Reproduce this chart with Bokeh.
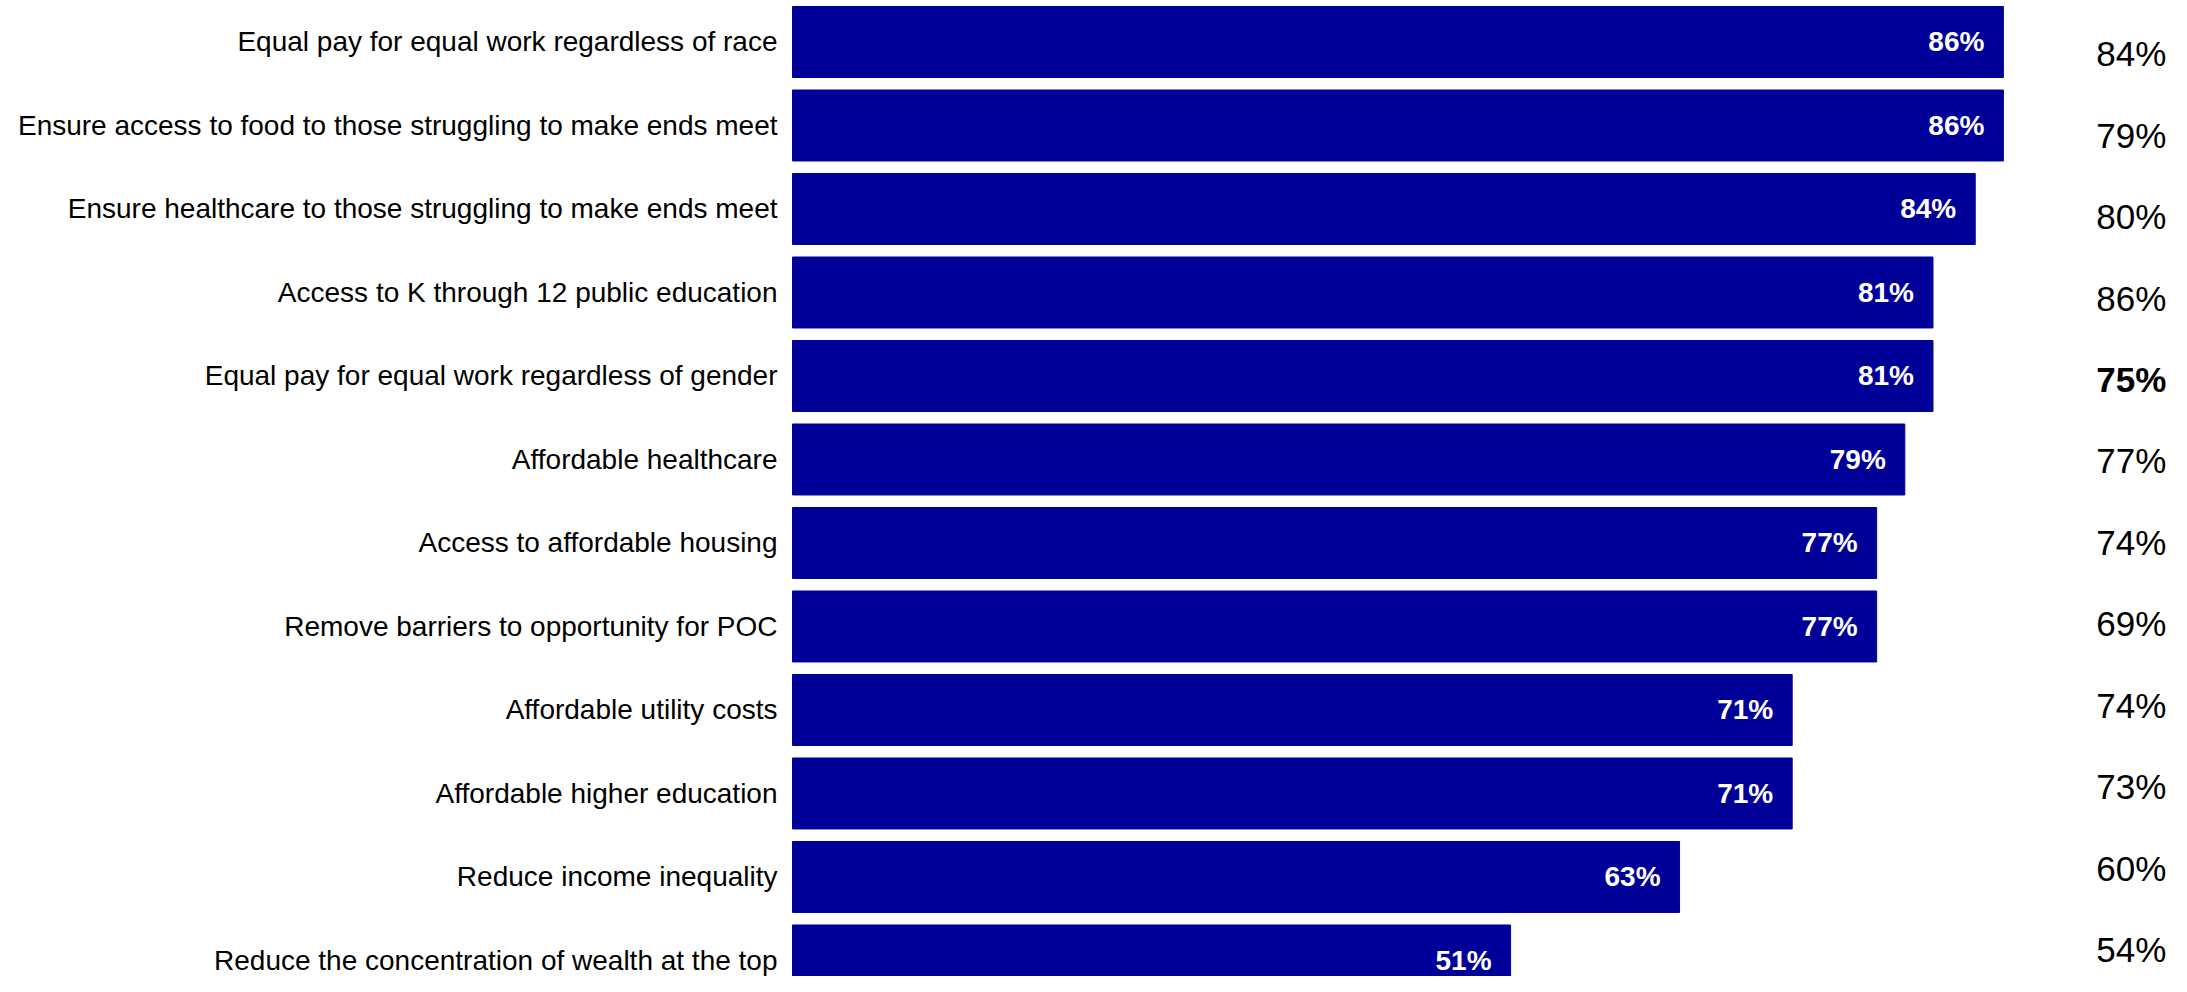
from bokeh.plotting import figure
from bokeh.models import ColumnDataSource, Range1d
from bokeh.core.properties import value, field
from bokeh.embed import file_html
from bokeh.resources import INLINE

categories = [
    "Equal pay for equal work regardless of race",
    "Ensure access to food to those struggling to make ends meet",
    "Ensure healthcare to those struggling to make ends meet",
    "Access to K through 12 public education",
    "Equal pay for equal work regardless of gender",
    "Affordable healthcare",
    "Access to affordable housing",
    "Remove barriers to opportunity for POC",
    "Affordable utility costs",
    "Affordable higher education",
    "Reduce income inequality",
    "Reduce the concentration of wealth at the top",
]
values = [86, 86, 84, 81, 81, 79, 77, 77, 71, 71, 63, 51]
compare = [84, 79, 80, 86, 75, 77, 74, 69, 74, 73, 60, 54]
compare_bold = [False, False, False, False, True, False, False, False, False, False, False, False]

n = len(categories)
idx = list(range(n))
src = ColumnDataSource(dict(
    y=idx,
    cat=categories,
    val=values,
    lbl=[f"{v}%" for v in values],
    zero=[0] * n,
))
right_x = 92.6
rsrc = ColumnDataSource(dict(
    y=[0.138 + 0.976 * i for i in idx],
    x=[right_x] * n,
    lbl=[f"{v}%" for v in compare],
    style=["bold" if b else "normal" for b in compare_bold],
))

W, H = 2171, 976
p = figure(width=W, height=H, output_backend="svg", toolbar_location=None,
           x_range=Range1d(-56.25, 97.94), y_range=Range1d(11.192, -0.497),
           min_border=0, min_border_left=0, min_border_right=0,
           min_border_top=0, min_border_bottom=0)
p.axis.visible = False
p.grid.visible = False
p.outline_line_color = None
p.background_fill_color = "white"
p.border_fill_color = "white"

BLUE = "#000099"
p.hbar(y="y", left="zero", right="val", height=0.85, source=src,
       fill_color=BLUE, line_color=BLUE)

p.text(x="zero", y="y", text="cat", source=src, x_offset=-15,
       text_align="right", text_baseline="middle",
       text_font=value("Liberation Sans"), text_font_size="28px",
       text_color="black")

p.text(x="val", y="y", text="lbl", source=src, x_offset=-19,
       text_align="right", text_baseline="middle",
       text_font=value("Liberation Sans"), text_font_size="28px",
       text_font_style="bold", text_color="white")

p.text(x="x", y="y", text="lbl", source=rsrc,
       text_align="left", text_baseline="middle",
       text_font=value("Liberation Sans"), text_font_size="35px",
       text_font_style=field("style"), text_color="black")

open("out.html", "w").write(file_html(p, INLINE))
